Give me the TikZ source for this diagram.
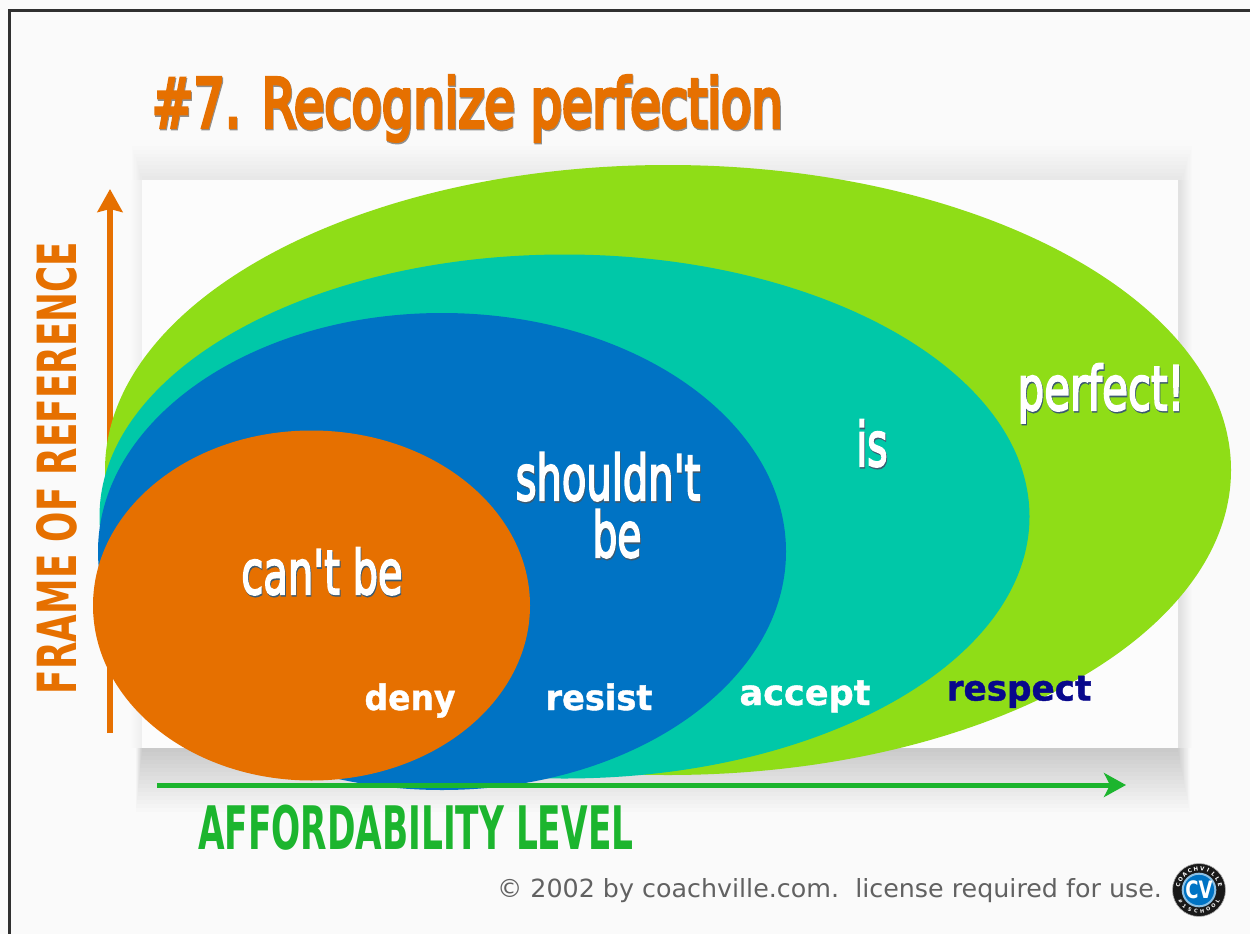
\documentclass[tikz,border=0pt]{standalone}
\usepackage{fontspec}
\usepackage{graphicx}
\setmainfont[Ligatures=TeXOff]{DejaVu Sans}
\newfontfamily\heavyfont[Ligatures=TeXOff,FakeBold=3.6]{DejaVu Sans}
\newfontfamily\titlefont[Ligatures=TeXOff,FakeBold=6]{DejaVu Sans}
\newfontfamily\verbfont[FakeBold=1.2]{DejaVu Sans}
\usetikzlibrary{shapes.geometric,arrows.meta}
\definecolor{pagebg}{HTML}{FAFAFA}
\definecolor{panelbg}{HTML}{FCFCFC}
\definecolor{framec}{HTML}{303030}
\definecolor{limeC}{HTML}{8FDD17}
\definecolor{tealC}{HTML}{00C8A8}
\definecolor{blueC}{HTML}{0073C4}
\definecolor{orangeC}{HTML}{E67000}
\definecolor{greenC}{HTML}{1CB52E}
\definecolor{navyC}{HTML}{08088C}
\definecolor{softshadow}{HTML}{909090}
\definecolor{txtshadow}{HTML}{3C5A70}
\newcommand{\shtxt}[5]{%
  \scalebox{#2}[#3]{\rlap{\kern1pt\raisebox{-1.3pt}{\color{#1}#5}}\textcolor{#4}{#5}}}
\tikzset{
  blob/.style={ellipse,inner sep=0pt,outer sep=0pt},
  word/.style={inner sep=0pt,outer sep=0pt,anchor=base},
  bigword/.style={word,font=\fontsize{50}{50}\selectfont\heavyfont},
  verb/.style={word,font=\fontsize{30}{30}\selectfont\verbfont\bfseries},
  logotop/.style={inner sep=0pt,text=white,font=\fontsize{5.5}{5.5}\selectfont\bfseries},
  logobot/.style={inner sep=0pt,text=white,font=\fontsize{5}{5}\selectfont\bfseries}
}
\begin{document}
\begin{tikzpicture}[x=1pt,y=-1pt]
\useasboundingbox (0,0) rectangle (1250,934);
\fill[pagebg] (0,0) rectangle (1250,934);
% frame
\fill[framec] (8,9) rectangle (1250,12);
\fill[framec] (8,9) rectangle (11,934);
% panel soft shadow
\foreach \g in {0,...,8}{
  \fill[black,fill opacity=0.006] (132+1.2*\g,146+3.8*\g) rectangle (1192-1.2*\g,180);
}
\foreach \g in {0,...,11}{
  \fill[black,fill opacity=0.008] (1178,180) rectangle (1192-\g,748);
  \fill[black,fill opacity=0.005] (131+\g,180) rectangle (142,748);
}
\foreach \g in {0,...,15}{
  \fill[black,fill opacity=0.0125] (136+0.4*\g,748) rectangle (1190-0.8*\g,812-4*\g);
}
\fill[panelbg] (142,180) rectangle (1178,748);
% vertical axis (behind the ellipses)
\coordinate (vStart) at (110,733);
\coordinate (vEnd) at (110,189);
\draw[orangeC,line width=6pt,-{Stealth[length=23pt,width=25pt,inset=3pt]}] (vStart) -- (vEnd);
% ellipses
\node[blob,fill=limeC,minimum width=1126pt,minimum height=610pt] (perfectE) at (668,470) {};
\node[blob,fill=tealC,minimum width=930pt,minimum height=524pt] (isE) at (564.5,516.5) {};
\node[blob,fill=blueC,minimum width=688pt,minimum height=477pt] (shouldE) at (442,551.5) {};
\node[blob,fill=orangeC,minimum width=437pt,minimum height=350pt] (cantE) at (311.5,605.5) {};
% horizontal axis
\coordinate (hStart) at (157,785);
\coordinate (hEnd) at (1126,785);
\draw[greenC,line width=5pt,-{Stealth[length=22pt,width=24pt,inset=6pt]}] (hStart) -- (hEnd);
% titles
\node[word,anchor=base west,font=\fontsize{60}{60}\selectfont\titlefont] (title) at (152,127)
  {\shtxt{softshadow}{0.825}{1.12}{orangeC}{\#7. Recognize perfection}};
\node[inner sep=0pt,outer sep=0pt,rotate=90,font=\fontsize{50}{50}\selectfont\bfseries] (yLabel) at (57,468)
  {\scalebox{0.714}[1.08]{\textcolor{orangeC}{FRAME OF REFERENCE}}};
\node[inner sep=0pt,outer sep=0pt,anchor=west,font=\fontsize{50}{50}\selectfont\bfseries] (xLabel) at (198,828)
  {\scalebox{0.687}[1.2]{\textcolor{greenC}{AFFORDABILITY LEVEL}}};
% big words
\node[bigword] (perfectT) at (1101,410) {\shtxt{txtshadow}{0.84}{1.22}{white}{perfect!}};
\node[bigword] (isT) at (872,466) {\shtxt{txtshadow}{0.78}{1.22}{white}{is}};
\node[bigword] (shouldT) at (608,500) {\shtxt{txtshadow}{0.80}{1.25}{white}{shouldn't}};
\node[bigword] (beT) at (617,557) {\shtxt{txtshadow}{0.78}{1.25}{white}{be}};
\node[bigword] (cantT) at (322,594) {\shtxt{txtshadow}{0.80}{1.22}{white}{can't be}};
% verbs
\node[verb,text=white] (denyT) at (410,710) {\scalebox{1.1}[1.17]{deny}};
\node[verb,text=white] (resistT) at (599,710) {\scalebox{1.12}[1.17]{resist}};
\node[verb,text=white] (acceptT) at (805,705) {\scalebox{1.17}[1.17]{accept}};
\node[verb,text=navyC] (respectT) at (1019,700.5) {\scalebox{1.14}[1.17]{respect}};
% footer
\node[word,anchor=base west,text=black!62,font=\fontsize{25}{25}\selectfont] (copy) at (497,897)
  {\scalebox{1.014}[1]{© 2002 by coachville.com.\ \ license required for use.}};
% logo
\node[circle,fill=black!90,draw=black!30,line width=0.6pt,minimum size=53pt,inner sep=0pt] (logo) at (1199,890) {};
\node[circle,fill=blueC,draw=blueC!45!white,line width=2pt,minimum size=32pt,inner sep=0pt,text=white,font=\fontsize{24}{24}\selectfont\bfseries] (logoIn) at (1199,890) {\scalebox{0.75}[1]{CV}};
\foreach \c [count=\i] in {C,O,A,C,H,V,I,L,L,E}{
  \pgfmathsetmacro{\t}{(\i-5.5)*17}
  \node[logotop,rotate=-\t] (logoTop\i) at ({1199+21.5*sin(\t)},{890-21.5*cos(\t)}) {\c};
}
\foreach \c [count=\i] in {\#,1,S,C,H,O,O,L}{
  \pgfmathsetmacro{\t}{(\i-4.5)*17}
  \node[logobot,rotate=\t] (logoBot\i) at ({1199+21.5*sin(\t)},{890+21.5*cos(\t)}) {\c};
}
\end{tikzpicture}
\end{document}
